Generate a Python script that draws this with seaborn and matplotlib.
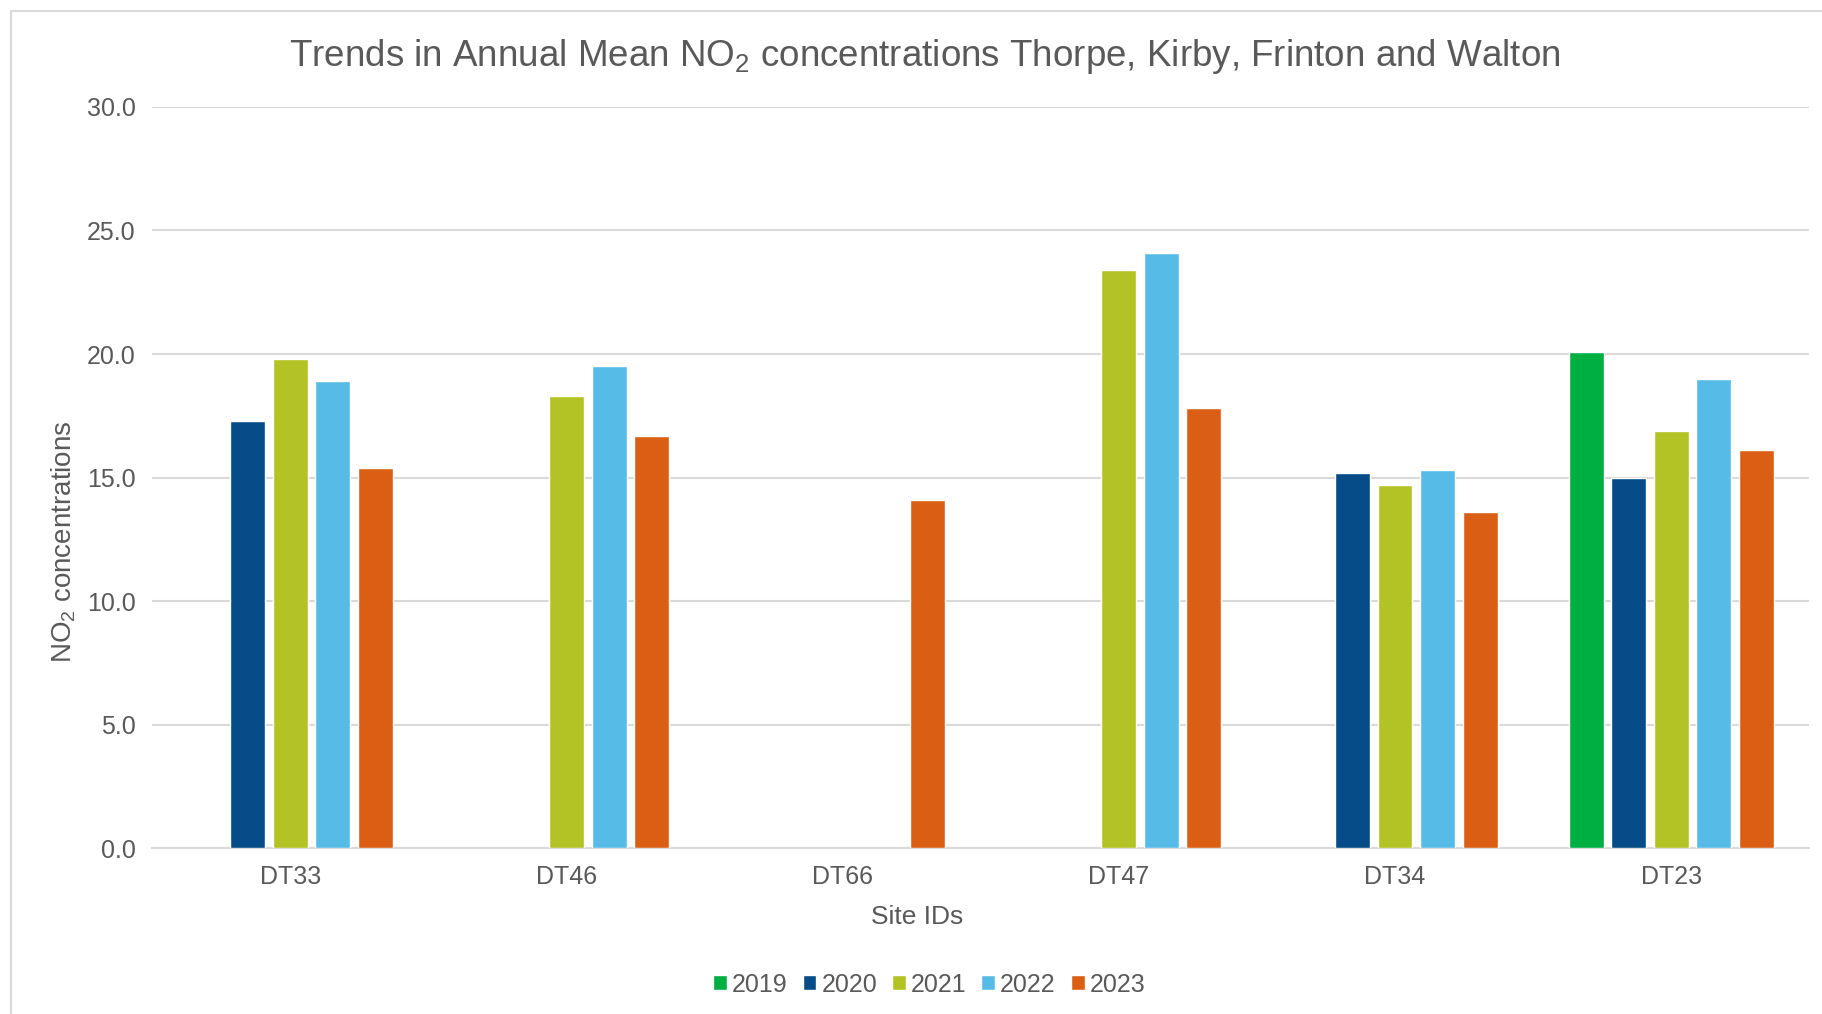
import matplotlib
matplotlib.use('Agg')
import matplotlib.pyplot as plt
import seaborn as sns
import pandas as pd
import numpy as np
from matplotlib.patches import Rectangle

sites = ['DT33', 'DT46', 'DT66', 'DT47', 'DT34', 'DT23']
years = ['2019', '2020', '2021', '2022', '2023']

# annual means per site, NaN = no data that year
no2_2019 = [np.nan, np.nan, np.nan, np.nan, np.nan, 20.1]
no2_2020 = [17.3, np.nan, np.nan, np.nan, 15.2, 15.0]
no2_2021 = [19.8, 18.3, np.nan, 23.4, 14.7, 16.9]
no2_2022 = [18.9, 19.5, np.nan, 24.1, 15.3, 19.0]
no2_2023 = [15.4, 16.7, 14.1, 17.8, 13.6, 16.1]

colors = ['#00AF41', '#054C89', '#B3C325', '#56BBE6', '#DA5F15']

rows = []
for yr, vals in zip(years, [no2_2019, no2_2020, no2_2021, no2_2022, no2_2023]):
    for s, v in zip(sites, vals):
        if not np.isnan(v):
            rows.append({'site': s, 'year': yr, 'value': v})
df = pd.DataFrame(rows)

sns.set_style('white')
plt.rcParams['font.family'] = ['Liberation Sans', 'DejaVu Sans']
plt.rcParams['mathtext.fontset'] = 'custom'
plt.rcParams['mathtext.rm'] = 'Liberation Sans'
txt = '#595959'

fig = plt.figure(figsize=(18.22, 10.14), dpi=100)
ax = fig.add_axes([0.0836, 0.1634, 0.9094, 0.7312])

sns.barplot(data=df, x='site', y='value', hue='year', order=sites, hue_order=years,
            palette=colors, saturation=1, width=0.77, gap=0.18, ax=ax, zorder=3)

ax.set_ylim(0, 30)
ax.set_xlim(-0.5, 5.5)
ax.set_yticks(np.arange(0, 30.1, 5))
ax.set_yticklabels([f'{v:.1f}' for v in np.arange(0, 30.1, 5)])
ax.yaxis.grid(True, color='#d9d9d9', lw=1.5, zorder=0)
ax.set_axisbelow(True)
for sp in ['top', 'right', 'left']:
    ax.spines[sp].set_visible(False)
ax.spines['bottom'].set_color('#d9d9d9')
ax.spines['bottom'].set_linewidth(1.5)
ax.tick_params(length=0, labelsize=18, labelcolor=txt, pad=12)

ax.set_xlabel('Site IDs', fontsize=19, color=txt)
ax.xaxis.set_label_coords(0.4614, -0.077)
ax.set_ylabel(r'NO$_{\mathrm{2}}$ concentrations', fontsize=20, color=txt)
ax.yaxis.set_label_coords(-0.045, 0.414)
fig.text(0.5077, 0.944, r'Trends in Annual Mean NO$_{\mathrm{2}}$ concentrations Thorpe, Kirby, Frinton and Walton',
         ha='center', va='center', fontsize=26.5, color=txt)

h, l = ax.get_legend_handles_labels()
ax.legend(h, l, loc='center', bbox_to_anchor=(0.51, 0.029), bbox_transform=fig.transFigure,
          ncol=5, frameon=False, fontsize=18, labelcolor=txt, handlelength=0.55,
          handleheight=0.55, handletextpad=0.2, columnspacing=0.6)

fig.patches.append(Rectangle((11 / 1822, -0.05), 1.1, 1 - 11 / 1014 + 0.05, transform=fig.transFigure,
                             fill=False, edgecolor='#d9d9d9', lw=1.5))

fig.savefig('out.png', dpi=100)
